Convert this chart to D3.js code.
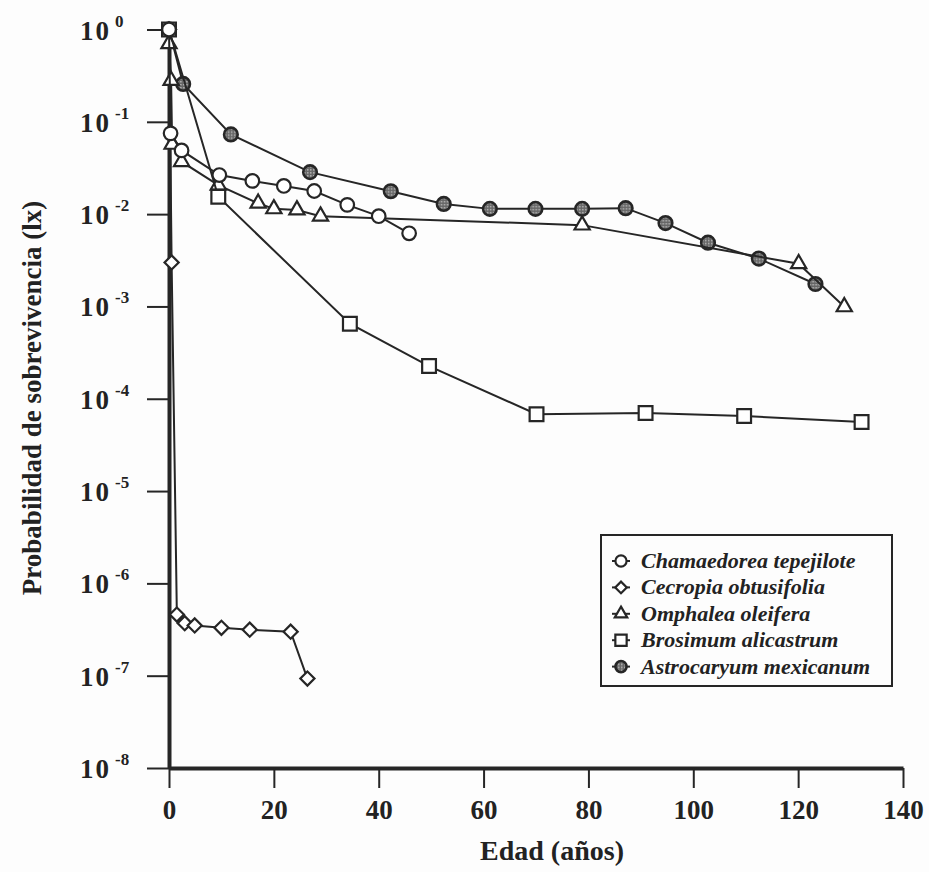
<!DOCTYPE html>
<html><head><meta charset="utf-8">
<script src="https://cdn.jsdelivr.net/npm/d3@7"></script>
<style>
body{margin:0;background:#fdfdfd;}
svg{display:block;}
text{font-family:"Liberation Serif","Times New Roman",serif;font-weight:bold;fill:#222;}
</style></head>
<body><svg id="c" width="929" height="872"></svg>
<script>
// ---- data ----
const chamaedoreaAge = [0, 0.3, 2.4, 9.6, 15.9, 21.9, 27.7, 34.0, 40.0, 45.8];
const chamaedoreaLx  = [1, 0.075, 0.049, 0.0265, 0.0229, 0.0202, 0.0178, 0.0126, 0.0095, 0.0062];

const cecropiaAge = [0, 0.5, 1.5, 3.0, 4.9, 10.0, 15.4, 23.2, 26.4];
const cecropiaLx  = [1, 0.003, 4.6e-7, 3.7e-7, 3.5e-7, 3.3e-7, 3.15e-7, 3.0e-7, 9.3e-8];

const omphaleaAge = [0, 0.4, 0.6, 2.4, 9.4, 17.0, 20.0, 24.4, 28.9, 78.8, 120.1, 128.8];
const omphaleaLx  = [0.7, 0.28, 0.057, 0.037, 0.0206, 0.0131, 0.0114, 0.0111, 0.0095, 0.0076, 0.0029, 0.00099];

const brosimumAge = [0, 9.4, 34.5, 49.6, 70.1, 90.9, 109.7, 132.1];
const brosimumLx  = [1, 0.0154, 6.5e-4, 2.26e-4, 6.8e-5, 7.0e-5, 6.5e-5, 5.6e-5];

const astrocaryumAge = [0, 2.7, 11.8, 26.9, 42.3, 52.4, 61.2, 69.9, 78.8, 87.1, 94.7, 102.8, 112.5, 123.3];
const astrocaryumLx  = [1, 0.257, 0.073, 0.0285, 0.0177, 0.0129, 0.0114, 0.0114, 0.0114, 0.0116, 0.0080, 0.0049, 0.0033, 0.00175];

const speciesNames = ["Chamaedorea tepejilote", "Cecropia obtusifolia", "Omphalea oleifera", "Brosimum alicastrum", "Astrocaryum mexicanum"];
const xTicks = [0, 20, 40, 60, 80, 100, 120, 140];
const yTickExponents = [0, -1, -2, -3, -4, -5, -6, -7, -8];
const xTitle = "Edad (años)";
const yTitle = "Probabilidad de sobrevivencia (lx)";

// ---- chart ----
const svg = d3.select("#c");
const ink = "#262626";
const defs = svg.append("defs");
const pat = defs.append("pattern").attr("id","dots").attr("width",3).attr("height",3).attr("patternUnits","userSpaceOnUse");
pat.append("rect").attr("width",3).attr("height",3).attr("fill","#666");
pat.append("rect").attr("width",1.5).attr("height",1.5).attr("fill","#b8b8b8");

const x = d3.scaleLinear().domain([0,140]).range([169,903]);
const y = d3.scaleLog().domain([1e-8,1]).range([768,29.5]);

// axes
const xAxis = svg.append("g").attr("transform","translate(0,768)")
  .call(d3.axisBottom(x).tickValues(xTicks).tickSize(20).tickSizeOuter(0).tickPadding(12));
xAxis.select(".domain").attr("stroke",ink).attr("stroke-width",4);
xAxis.selectAll(".tick line").attr("stroke",ink).attr("stroke-width",2);
xAxis.selectAll(".tick text").attr("font-size",27).attr("font-family","Liberation Serif").attr("font-weight","bold").attr("fill","#222");

const yVals = yTickExponents.map(e => Math.pow(10,e));
const yAxis = svg.append("g").attr("transform","translate(169,0)")
  .call(d3.axisLeft(y).tickValues(yVals).tickSize(22).tickSizeOuter(0).tickFormat(""));
yAxis.select(".domain").attr("stroke",ink).attr("stroke-width",4);
yAxis.selectAll(".tick line").attr("stroke",ink).attr("stroke-width",2);

// y tick labels 10^n
const yl = svg.append("g");
yTickExponents.forEach(e => {
  const t = yl.append("text").attr("x",80).attr("y",y(Math.pow(10,e))+10).attr("font-size",27).attr("letter-spacing",2);
  t.append("tspan").text("10");
  t.append("tspan").attr("dx",4).attr("dy",-13).attr("font-size",17).attr("letter-spacing",0).text(e===0 ? "0" : "-" + Math.abs(e));
});

// titles
svg.append("text").attr("x",552).attr("y",860).attr("text-anchor","middle").attr("font-size",28).text(xTitle);
svg.append("text").attr("transform","translate(41,398) rotate(-90)").attr("text-anchor","middle").attr("font-size",27).text(yTitle);

// series (drawing order: first drawn lies underneath)
const series = [
  {name:speciesNames[4], age:astrocaryumAge, lx:astrocaryumLx, shape:"filled"},
  {name:speciesNames[1], age:cecropiaAge, lx:cecropiaLx, shape:"diamond"},
  {name:speciesNames[2], age:omphaleaAge, lx:omphaleaLx, shape:"triangle"},
  {name:speciesNames[3], age:brosimumAge, lx:brosimumLx, shape:"square"},
  {name:speciesNames[0], age:chamaedoreaAge, lx:chamaedoreaLx, shape:"circle"}
];

function marker(g, shape, scale){
  scale = scale || 1;
  let p;
  if(shape==="circle"){ p = g.append("circle").attr("r",6.8*scale).attr("fill","#fff").attr("stroke",ink).attr("stroke-width",2.2); }
  else if(shape==="filled"){ p = g.append("circle").attr("r",6.8*scale).attr("fill","url(#dots)").attr("stroke",ink).attr("stroke-width",2.6); }
  else if(shape==="square"){ p = g.append("path").attr("d",d3.symbol(d3.symbolSquare, 190*scale*scale)()).attr("fill","#fff").attr("stroke",ink).attr("stroke-width",2.2); }
  else if(shape==="triangle"){ p = g.append("path").attr("d",d3.symbol(d3.symbolTriangle, 100*scale*scale)()).attr("fill","#fff").attr("stroke",ink).attr("stroke-width",2.2); }
  else if(shape==="diamond"){ p = g.append("path").attr("d",d3.symbol(d3.symbolSquare, 100*scale*scale)()).attr("transform","rotate(45)").attr("fill","#fff").attr("stroke",ink).attr("stroke-width",2.2); }
  return p;
}

const line = d3.line().x(d=>x(d[0])).y(d=>y(d[1]));
series.forEach(s => {
  const pts = s.age.map((a,i)=>[a,s.lx[i]]);
  const g = svg.append("g");
  g.append("path").attr("d",line(pts)).attr("fill","none").attr("stroke",ink).attr("stroke-width",2);
  pts.forEach(pt => {
    const mg = g.append("g").attr("transform",`translate(${x(pt[0])},${y(pt[1])})`);
    marker(mg, s.shape, 1);
  });
});

// legend
const legendOrder = [
  {name:speciesNames[0], shape:"circle"},
  {name:speciesNames[1], shape:"diamond"},
  {name:speciesNames[2], shape:"triangle"},
  {name:speciesNames[3], shape:"square"},
  {name:speciesNames[4], shape:"filled"}
];
const lg = svg.append("g");
lg.append("rect").attr("x",601).attr("y",535).attr("width",291).attr("height",151).attr("fill","#fdfdfd").attr("stroke",ink).attr("stroke-width",2);
legendOrder.forEach((d,i) => {
  const cy = 561 + i*26.4;
  const g = lg.append("g").attr("transform",`translate(621,${cy})`);
  g.append("line").attr("x1",-9).attr("x2",9).attr("stroke",ink).attr("stroke-width",2);
  marker(g, d.shape, 0.82);
  lg.append("text").attr("x",641).attr("y",cy+7).attr("font-size",22).attr("font-style","italic").text(d.name);
});
</script></body></html>
